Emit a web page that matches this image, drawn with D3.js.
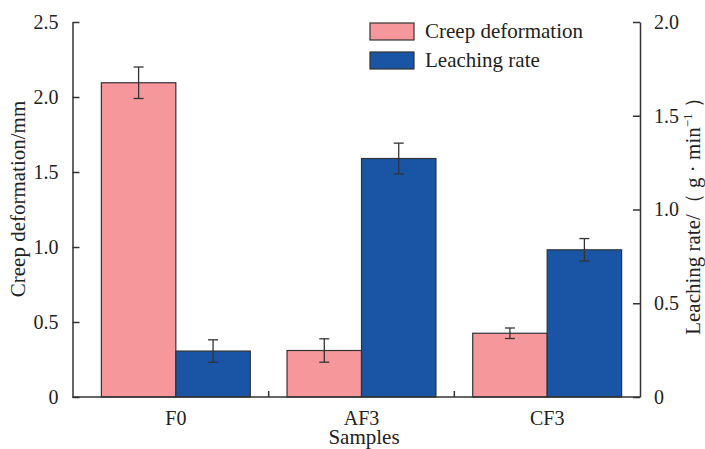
<!DOCTYPE html>
<html>
<head>
<meta charset="utf-8">
<script src="https://cdn.jsdelivr.net/npm/d3@7"></script>
<style>
  body { margin: 0; background: #fff; }
  svg { font-family: "Liberation Serif", "Times New Roman", serif; }
</style>
</head>
<body>
<svg id="canvas" width="705" height="449"></svg>
<script>
let samples = ['F0', 'AF3', 'CF3']
let creep = [2.095, 0.31, 0.425]
let creepErr = [0.105, 0.078, 0.035]
let leaching = [0.245, 1.272, 0.785]
let leachingErr = [0.06, 0.082, 0.06]
let leftTicks = [0, 0.5, 1.0, 1.5, 2.0, 2.5]
let rightTicks = [0, 0.5, 1.0, 1.5, 2.0]

let pink = '#f6979c'
let blue = '#1a55a5'
let ink = '#333'

let canvas = d3.select('#canvas')

let plotLeft = 72.5, plotRight = 640, plotTop = 22, plotBottom = 397

let x = d3.scaleBand().domain(samples).range([83, 640])
let yL = d3.scaleLinear().domain([0, 2.5]).range([plotBottom, plotTop])
let yR = d3.scaleLinear().domain([0, 2.0]).range([plotBottom, plotTop])

let fmt = (d) => d === 0 ? '0' : d.toFixed(1)
let barW = x.bandwidth() * 0.401

// bars
let groups = canvas.selectAll('g.group')
    .data(samples)
    .enter()
    .append('g')
    .attr('class', 'group')

groups.append('rect')
    .attr('x', (d) => x(d) + x.bandwidth() / 2 - barW)
    .attr('y', (d, i) => yL(creep[i]))
    .attr('width', barW)
    .attr('height', (d, i) => plotBottom - yL(creep[i]))
    .attr('fill', pink)
    .attr('stroke', ink)
    .attr('stroke-width', 1.2)

groups.append('rect')
    .attr('x', (d) => x(d) + x.bandwidth() / 2)
    .attr('y', (d, i) => yR(leaching[i]))
    .attr('width', barW)
    .attr('height', (d, i) => plotBottom - yR(leaching[i]))
    .attr('fill', blue)
    .attr('stroke', ink)
    .attr('stroke-width', 1.2)

// error bars
let drawErr = (cx, y1, y2) => {
    let g = canvas.append('g').attr('stroke', ink).attr('stroke-width', 1.3)
    g.append('line').attr('x1', cx).attr('x2', cx).attr('y1', y1).attr('y2', y2)
    g.append('line').attr('x1', cx - 5).attr('x2', cx + 5).attr('y1', y1).attr('y2', y1)
    g.append('line').attr('x1', cx - 5).attr('x2', cx + 5).attr('y1', y2).attr('y2', y2)
}
samples.forEach((s, i) => {
    let c = x(s) + x.bandwidth() / 2
    drawErr(c - barW / 2, yL(creep[i] + creepErr[i]), yL(creep[i] - creepErr[i]))
    drawErr(c + barW / 2, yR(leaching[i] + leachingErr[i]), yR(leaching[i] - leachingErr[i]))
})

// axes
let styleAxis = (g) => {
    g.selectAll('path, line').attr('stroke', ink).attr('stroke-width', 1.5)
    g.selectAll('text').attr('fill', '#222').style('font-size', '20px')
        .style('font-family', '"Liberation Serif", serif')
}

canvas.append('g')
    .attr('transform', 'translate(' + plotLeft + ',0)')
    .call(d3.axisLeft(yL).tickValues(leftTicks).tickFormat(fmt).tickSizeInner(-7).tickSizeOuter(0).tickPadding(14))
    .call(styleAxis)

canvas.append('g')
    .attr('transform', 'translate(' + plotRight + ',0)')
    .call(d3.axisRight(yR).tickValues(rightTicks).tickFormat(fmt).tickSizeInner(-7).tickSizeOuter(0).tickPadding(14))
    .call(styleAxis)

// bottom axis line with inward ticks between groups
canvas.append('line')
    .attr('x1', plotLeft).attr('x2', plotRight).attr('y1', plotBottom).attr('y2', plotBottom)
    .attr('stroke', ink).attr('stroke-width', 1.5)

canvas.selectAll('line.sep')
    .data(samples.slice(1))
    .enter()
    .append('line')
    .attr('class', 'sep')
    .attr('x1', (d) => x(d)).attr('x2', (d) => x(d))
    .attr('y1', plotBottom).attr('y2', plotBottom - 6)
    .attr('stroke', ink).attr('stroke-width', 1.5)

canvas.selectAll('text.cat')
    .data(samples)
    .enter()
    .append('text')
    .attr('class', 'cat')
    .attr('x', (d) => x(d) + x.bandwidth() / 2)
    .attr('y', 425)
    .attr('text-anchor', 'middle')
    .style('font-size', '20px')
    .attr('fill', '#222')
    .text((d) => d)

// axis titles
canvas.append('text')
    .attr('x', 364).attr('y', 444)
    .attr('text-anchor', 'middle')
    .style('font-size', '21px')
    .attr('fill', '#222')
    .text('Samples')

canvas.append('text')
    .attr('transform', 'translate(25,199) rotate(-90)')
    .attr('text-anchor', 'middle')
    .style('font-size', '21px')
    .attr('fill', '#222')
    .text('Creep deformation/mm')

let rt = canvas.append('text')
    .attr('transform', 'translate(700,211) rotate(-90)')
    .attr('text-anchor', 'middle')
    .style('font-size', '21px')
    .attr('fill', '#222')
rt.append('tspan').text('Leaching rate/（ g · min')
rt.append('tspan').attr('dy', -8).style('font-size', '13px').text('−1')
rt.append('tspan').attr('dy', 8).text(' ）')

// legend
let legend = [['Creep deformation', pink], ['Leaching rate', blue]]
let lg = canvas.selectAll('g.legend')
    .data(legend)
    .enter()
    .append('g')
    .attr('class', 'legend')
    .attr('transform', (d, i) => 'translate(370,' + (23 + i * 29) + ')')

lg.append('rect')
    .attr('width', 44).attr('height', 17)
    .attr('fill', (d) => d[1])
    .attr('stroke', ink).attr('stroke-width', 1.2)

lg.append('text')
    .attr('x', 55).attr('y', 15)
    .style('font-size', '21px')
    .attr('fill', '#222')
    .text((d) => d[0])
</script>
</body>
</html>
